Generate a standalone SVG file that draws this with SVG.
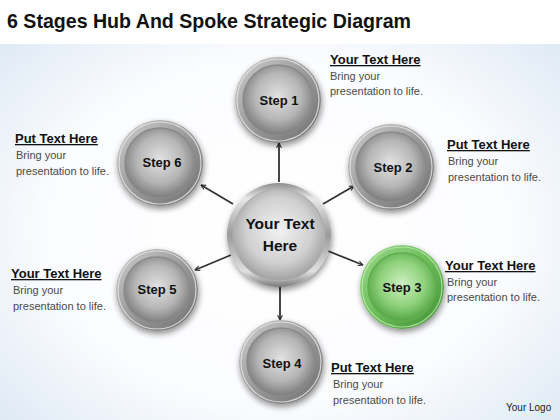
<svg xmlns="http://www.w3.org/2000/svg" width="560" height="420" viewBox="0 0 560 420">
<defs>
<radialGradient id="bg" cx="50%" cy="55%" r="75%">
<stop offset="0" stop-color="#ffffff"/>
<stop offset="0.55" stop-color="#fbfcfe"/>
<stop offset="1" stop-color="#d6e4f2"/>
</radialGradient>
<linearGradient id="ringGrey" x1="0" y1="0" x2="1" y2="1">
<stop offset="0" stop-color="#cfcfcf"/>
<stop offset="0.5" stop-color="#9a9a9a"/>
<stop offset="1" stop-color="#6e6e6e"/>
</linearGradient>
<radialGradient id="discGrey" cx="50%" cy="45%" r="55%">
<stop offset="0" stop-color="#e2e2e2"/>
<stop offset="0.6" stop-color="#b6b6b6"/>
<stop offset="1" stop-color="#7c7c7c"/>
</radialGradient>
<linearGradient id="ringGreen" x1="0" y1="0" x2="1" y2="1">
<stop offset="0" stop-color="#9ed88e"/>
<stop offset="0.5" stop-color="#6cbd5a"/>
<stop offset="1" stop-color="#3f8f33"/>
</linearGradient>
<radialGradient id="discGreen" cx="50%" cy="45%" r="55%">
<stop offset="0" stop-color="#cdeec0"/>
<stop offset="0.6" stop-color="#8fd27c"/>
<stop offset="1" stop-color="#55a544"/>
</radialGradient>
<linearGradient id="ringHub" x1="0" y1="0" x2="0" y2="1">
<stop offset="0" stop-color="#8e8e8e"/>
<stop offset="0.15" stop-color="#e8e8e8"/>
<stop offset="0.5" stop-color="#9a9a9a"/>
<stop offset="0.85" stop-color="#e0e0e0"/>
<stop offset="1" stop-color="#7a7a7a"/>
</linearGradient>
<radialGradient id="discHub" cx="50%" cy="45%" r="55%">
<stop offset="0" stop-color="#f2f2f2"/>
<stop offset="0.65" stop-color="#d0d0d0"/>
<stop offset="1" stop-color="#a0a0a0"/>
</radialGradient>
<filter id="shadow" x="-30%" y="-30%" width="160%" height="160%">
<feGaussianBlur in="SourceAlpha" stdDeviation="3"/>
<feOffset dx="1" dy="3" result="b"/>
<feComponentTransfer><feFuncA type="linear" slope="0.45"/></feComponentTransfer>
<feMerge><feMergeNode/><feMergeNode in="SourceGraphic"/></feMerge>
</filter>
<marker id="arrow" viewBox="0 0 10 10" refX="9" refY="5" markerWidth="6" markerHeight="6" orient="auto" markerUnits="userSpaceOnUse">
<path d="M1,1 L9,5 L1,9" fill="none" stroke="#333" stroke-width="1.8"/>
</marker>
</defs>
<style>
.title{font-family:"Liberation Sans",Arial,sans-serif;font-weight:bold;font-size:21px;fill:#111}
.head{font-family:"Liberation Sans",Arial,sans-serif;font-weight:bold;font-size:13px;fill:#111;text-decoration:underline}
.body{font-family:"Liberation Sans",Arial,sans-serif;font-size:11px;fill:#4a4a4a}
.step{font-family:"Liberation Sans",Arial,sans-serif;font-weight:bold;font-size:13px;fill:#111;text-anchor:middle}
.hubt{font-family:"Liberation Sans",Arial,sans-serif;font-weight:bold;font-size:15.5px;fill:#111;text-anchor:middle}
.logo{font-family:"Liberation Sans",Arial,sans-serif;font-size:10px;fill:#222}
.conn{stroke:#333;stroke-width:1.8;fill:none;marker-end:url(#arrow)}
.ring{fill:url(#ringGrey)}
.disc{fill:url(#discGrey);stroke:#8a8a8a;stroke-width:1.5}
.edge{fill:none;stroke:#e6e6e6;stroke-width:1.2;opacity:0.8}
</style>
<rect x="0" y="0" width="560" height="420" fill="url(#bg)"/>
<rect x="0" y="0" width="560" height="44" fill="#ffffff"/>
<text class="title" x="7" y="28" textLength="404" lengthAdjust="spacingAndGlyphs">6 Stages Hub And Spoke Strategic Diagram</text>

<g id="connectors">
<line class="conn" x1="279" y1="182" x2="279" y2="143"/>
<line class="conn" x1="323" y1="204" x2="354" y2="186"/>
<line class="conn" x1="328" y1="251" x2="363" y2="265"/>
<line class="conn" x1="280" y1="286" x2="280" y2="320"/>
<line class="conn" x1="231" y1="255" x2="195" y2="270"/>
<line class="conn" x1="233" y1="204" x2="201" y2="185"/>
</g>

<g id="hub">
<circle cx="279" cy="235" r="52" fill="url(#ringHub)" filter="url(#shadow)"/>
<circle cx="279" cy="235" r="46" fill="url(#discHub)" stroke="#b0b0b0" stroke-width="1"/>
<text class="hubt" x="280" y="229">Your Text</text>
<text class="hubt" x="280" y="251">Here</text>
</g>

<g id="step1">
<circle class="ring" cx="278" cy="100" r="43" filter="url(#shadow)"/>
<circle class="edge" cx="278" cy="100" r="41"/>
<circle class="disc" cx="278" cy="100" r="35"/>
<text class="step" x="279" y="105">Step 1</text>
<text class="head" x="330" y="64">Your Text Here</text>
<text class="body" x="330" y="80">Bring your</text>
<text class="body" x="330" y="95">presentation to life.</text>
</g>

<g id="step2">
<circle class="ring" cx="391" cy="167" r="43" filter="url(#shadow)"/>
<circle class="edge" cx="391" cy="167" r="41"/>
<circle class="disc" cx="391" cy="167" r="35"/>
<text class="step" x="393" y="172">Step 2</text>
<text class="head" x="447" y="149">Put Text Here</text>
<text class="body" x="448" y="165">Bring your</text>
<text class="body" x="448" y="181">presentation to life.</text>
</g>

<g id="step3">
<circle cx="402" cy="287" r="42" fill="url(#ringGreen)" filter="url(#shadow)"/>
<circle cx="402" cy="287" r="40" fill="none" stroke="#c8f0b8" stroke-width="1.2" opacity="0.7"/>
<circle cx="402" cy="287" r="34" fill="url(#discGreen)" stroke="#5fae4c" stroke-width="1.5"/>
<text class="step" x="402" y="292">Step 3</text>
<text class="head" x="445" y="270">Your Text Here</text>
<text class="body" x="447" y="286">Bring your</text>
<text class="body" x="447" y="301">presentation to life.</text>
</g>

<g id="step4">
<circle class="ring" cx="281" cy="362" r="42" filter="url(#shadow)"/>
<circle class="edge" cx="281" cy="362" r="40"/>
<circle class="disc" cx="281" cy="362" r="34"/>
<text class="step" x="282" y="368">Step 4</text>
<text class="head" x="331" y="372">Put Text Here</text>
<text class="body" x="333" y="388">Bring your</text>
<text class="body" x="333" y="404">presentation to life.</text>
</g>

<g id="step5">
<circle class="ring" cx="157" cy="290" r="41" filter="url(#shadow)"/>
<circle class="edge" cx="157" cy="290" r="39"/>
<circle class="disc" cx="157" cy="290" r="33"/>
<text class="step" x="157" y="294">Step 5</text>
<text class="head" x="11" y="278">Your Text Here</text>
<text class="body" x="13" y="294">Bring your</text>
<text class="body" x="13" y="310">presentation to life.</text>
</g>

<g id="step6">
<circle class="ring" cx="160" cy="163" r="43" filter="url(#shadow)"/>
<circle class="edge" cx="160" cy="163" r="41"/>
<circle class="disc" cx="160" cy="163" r="35"/>
<text class="step" x="162" y="167">Step 6</text>
<text class="head" x="15" y="143">Put Text Here</text>
<text class="body" x="16" y="159">Bring your</text>
<text class="body" x="16" y="175">presentation to life.</text>
</g>

<text class="logo" x="506" y="411">Your Logo</text>
</svg>
